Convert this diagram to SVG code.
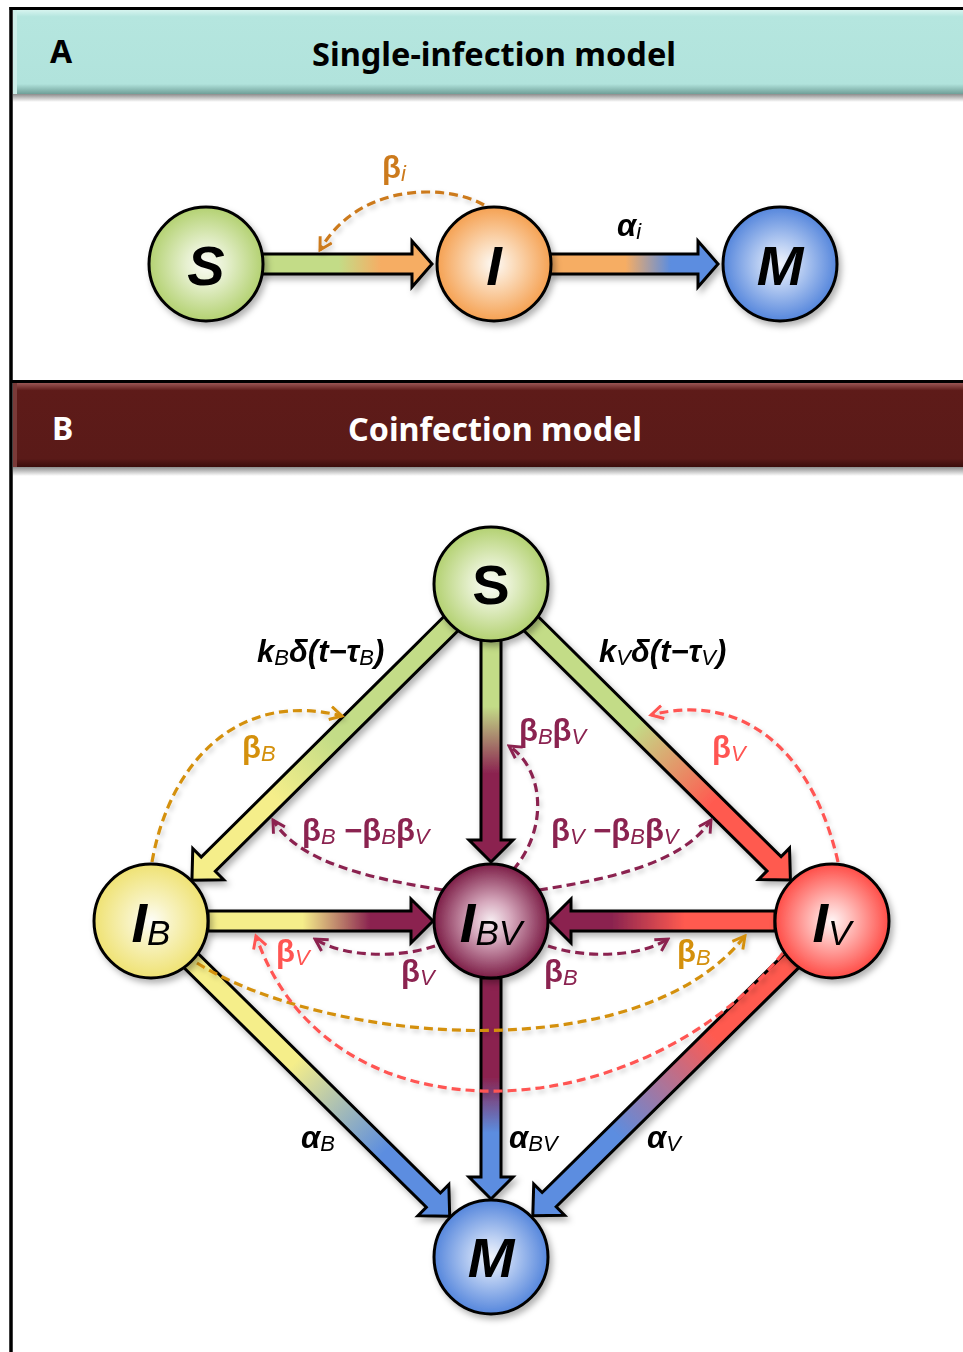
<svg xmlns="http://www.w3.org/2000/svg" width="963" height="1352" viewBox="0 0 963 1352">
<style>
.hdr{font-family:"Noto Sans","Open Sans",sans-serif;font-weight:bold;font-size:32px}
.nd{stroke:#000;stroke-width:3}
.arr{stroke:#000;stroke-width:3;stroke-linejoin:miter}
.dsh{fill:none;stroke-width:3.2;stroke-dasharray:9 5}
.nl{font-family:"Liberation Sans",Arial,sans-serif;font-weight:bold;font-size:56px;fill:#000}
.ns{font-family:"Liberation Sans",Arial,sans-serif;font-weight:normal;font-style:italic;font-size:35px}
.lb{font-family:"Liberation Sans",Arial,sans-serif;font-weight:bold;font-size:31px}
.it{font-style:italic}
.sb{font-weight:normal;font-style:italic;font-size:22px}
.or{fill:#d4900c}.rd{fill:#ff5552}.mr{fill:#8b2350}.bk{fill:#000}.oa{fill:#cc7a1c}
</style>
<defs>
<filter id="sh" x="-20%" y="-20%" width="140%" height="140%"><feDropShadow dx="3" dy="4" stdDeviation="3" flood-color="#000" flood-opacity="0.3"/></filter>
<filter id="sh2" x="-20%" y="-20%" width="140%" height="140%"><feDropShadow dx="2" dy="3" stdDeviation="2.5" flood-color="#000" flood-opacity="0.2"/></filter>
<radialGradient id="gS"><stop offset="0" stop-color="#fbfcf7"/><stop offset="0.35" stop-color="#e6f0cf"/><stop offset="1" stop-color="#b3d171"/></radialGradient>
<radialGradient id="gI"><stop offset="0" stop-color="#fdfaf6"/><stop offset="0.35" stop-color="#fbdcbc"/><stop offset="1" stop-color="#f5a152"/></radialGradient>
<radialGradient id="gM"><stop offset="0" stop-color="#f2f5fc"/><stop offset="0.35" stop-color="#bcd0f3"/><stop offset="1" stop-color="#5586dc"/></radialGradient>
<radialGradient id="gB"><stop offset="0" stop-color="#fdfdf8"/><stop offset="0.35" stop-color="#f8f3c4"/><stop offset="1" stop-color="#efe273"/></radialGradient>
<radialGradient id="gBV"><stop offset="0" stop-color="#f7eef2"/><stop offset="0.35" stop-color="#d6a9bd"/><stop offset="1" stop-color="#7c1d46"/></radialGradient>
<radialGradient id="gV"><stop offset="0" stop-color="#fff5f5"/><stop offset="0.35" stop-color="#ffbcb9"/><stop offset="1" stop-color="#ff4d47"/></radialGradient>
<linearGradient id="aSI" x1="0" x2="1" y1="0" y2="0"><stop offset="0.45" stop-color="#c3dc87"/><stop offset="0.7" stop-color="#f6ad64"/></linearGradient>
<linearGradient id="aIM" x1="0" x2="1" y1="0" y2="0"><stop offset="0.45" stop-color="#f6ad64"/><stop offset="0.72" stop-color="#5b8de0"/></linearGradient>
<linearGradient id="aSB" x1="0" x2="1" y1="0" y2="0"><stop offset="0.45" stop-color="#c3dc87"/><stop offset="0.68" stop-color="#f5ee8a"/></linearGradient>
<linearGradient id="aSBV" x1="0" x2="1" y1="0" y2="0"><stop offset="0.3" stop-color="#c3dc87"/><stop offset="0.6" stop-color="#8b2450"/></linearGradient>
<linearGradient id="aSV" x1="0" x2="1" y1="0" y2="0"><stop offset="0.4" stop-color="#c3dc87"/><stop offset="0.7" stop-color="#ff5a50"/></linearGradient>
<linearGradient id="aBBV" x1="0" x2="1" y1="0" y2="0"><stop offset="0.42" stop-color="#f5ee8a"/><stop offset="0.72" stop-color="#8b2450"/></linearGradient>
<linearGradient id="aVBV" x1="0" x2="1" y1="0" y2="0"><stop offset="0.4" stop-color="#ff5a50"/><stop offset="0.72" stop-color="#8b2450"/></linearGradient>
<linearGradient id="aBM" x1="0" x2="1" y1="0" y2="0"><stop offset="0.4" stop-color="#f5ee8a"/><stop offset="0.75" stop-color="#5b8de0"/></linearGradient>
<linearGradient id="aBVM" x1="0" x2="1" y1="0" y2="0"><stop offset="0.45" stop-color="#8b2450"/><stop offset="0.7" stop-color="#5b8de0"/></linearGradient>
<linearGradient id="aVM" x1="0" x2="1" y1="0" y2="0"><stop offset="0.3" stop-color="#ff5a50"/><stop offset="0.68" stop-color="#5b8de0"/></linearGradient>
<linearGradient id="shd" x1="0" x2="0" y1="0" y2="1"><stop offset="0" stop-color="#8c8c8c"/><stop offset="1" stop-color="#ffffff"/></linearGradient>
<linearGradient id="tealG" x1="0" x2="0" y1="0" y2="1"><stop offset="0" stop-color="#d6f4ef"/><stop offset="0.08" stop-color="#b5e6df"/><stop offset="0.88" stop-color="#b1e3dc"/><stop offset="1" stop-color="#6f9f98"/></linearGradient>
<linearGradient id="redG" x1="0" x2="0" y1="0" y2="1"><stop offset="0" stop-color="#9a5654"/><stop offset="0.09" stop-color="#5e1b19"/><stop offset="0.9" stop-color="#5a1a18"/><stop offset="1" stop-color="#3a0c0b"/></linearGradient>
<marker id="mO" viewBox="0 0 12 12" refX="10" refY="6" markerWidth="16" markerHeight="16" markerUnits="userSpaceOnUse" orient="auto"><path d="M1,1 L10,6 L1,11" fill="none" stroke="#d4900c" stroke-width="2.2"/></marker>
<marker id="mA" viewBox="0 0 12 12" refX="10" refY="6" markerWidth="16" markerHeight="16" markerUnits="userSpaceOnUse" orient="auto"><path d="M1,1 L10,6 L1,11" fill="none" stroke="#cc7a1c" stroke-width="2.2"/></marker>
<marker id="mR" viewBox="0 0 12 12" refX="10" refY="6" markerWidth="16" markerHeight="16" markerUnits="userSpaceOnUse" orient="auto"><path d="M1,1 L10,6 L1,11" fill="none" stroke="#ff5552" stroke-width="2.2"/></marker>
<marker id="mM" viewBox="0 0 12 12" refX="10" refY="6" markerWidth="16" markerHeight="16" markerUnits="userSpaceOnUse" orient="auto"><path d="M1,1 L10,6 L1,11" fill="none" stroke="#8b2350" stroke-width="2.2"/></marker>
</defs>
<rect width="963" height="1352" fill="#fff"/>
<g id="frame">
<rect x="13" y="94" width="950" height="8" fill="url(#shd)"/>
<rect x="13" y="10" width="950" height="84" fill="url(#tealG)"/>
<rect x="13" y="10" width="4" height="84" fill="#cdeee9"/>
<rect x="13" y="467" width="950" height="9" fill="url(#shd)"/>
<rect x="13" y="383" width="950" height="84" fill="url(#redG)"/>
<rect x="13" y="383" width="4" height="84" fill="#7a3a38"/>
<line x1="9.5" y1="8.5" x2="963" y2="8.5" stroke="#000" stroke-width="3"/>
<line x1="11" y1="7" x2="11" y2="1352" stroke="#000" stroke-width="3.5"/>
<line x1="11" y1="381.5" x2="963" y2="381.5" stroke="#000" stroke-width="3"/>
<text x="50" y="63" class="hdr" font-size="28">A</text>
<text x="312" y="66" class="hdr" textLength="364" lengthAdjust="spacingAndGlyphs">Single-infection model</text>
<text x="52" y="440" class="hdr" font-size="28" fill="#fff">B</text>
<text x="348" y="441" class="hdr" fill="#fff" textLength="294" lengthAdjust="spacingAndGlyphs">Coinfection model</text>
</g>
<g id="connectors">
<g filter="url(#sh)">
<polygon class="arr" fill="url(#aSI)" points="0,-10 150,-10 150,-23 170,0 150,23 150,10 0,10" transform="translate(262,264)"/>
<polygon class="arr" fill="url(#aIM)" points="0,-10 148,-10 148,-23 168,0 148,23 148,10 0,10" transform="translate(550,264)"/>
<polygon class="arr" fill="url(#aSB)" points="0,-10 342,-10 342,-22 365,0 342,22 342,10 0,10" transform="translate(451.2,623.4) rotate(135.26)"/>
<polygon class="arr" fill="url(#aSBV)" points="0,-10 200,-10 200,-22 222,0 200,22 200,10 0,10" transform="translate(491,640) rotate(90)"/>
<polygon class="arr" fill="url(#aSV)" points="0,-10 342,-10 342,-22 365,0 342,22 342,10 0,10" transform="translate(530.8,623.4) rotate(44.66)"/>
<polygon class="arr" fill="url(#aBBV)" points="0,-10 203,-10 203,-22 225,0 203,22 203,10 0,10" transform="translate(208,921)"/>
<polygon class="arr" fill="url(#aVBV)" points="0,-10 204,-10 204,-22 226,0 204,22 204,10 0,10" transform="translate(775,921) rotate(180)"/>
<polygon class="arr" fill="url(#aBM)" points="0,-10 341,-10 341,-22 364,0 341,22 341,10 0,10" transform="translate(190.8,960.4) rotate(44.66)"/>
<polygon class="arr" fill="url(#aBVM)" points="0,-10 199,-10 199,-22 221,0 199,22 199,10 0,10" transform="translate(491,978) rotate(90)"/>
<polygon class="arr" fill="url(#aVM)" points="0,-10 341,-10 341,-22 364,0 341,22 341,10 0,10" transform="translate(792.1,960.3) rotate(135.43)"/>
</g>
<g filter="url(#sh2)">
<path class="dsh" stroke="#cc7a1c" marker-end="url(#mA)" d="M484,205 C450,185 360,180 320,250"/>
<path class="dsh" stroke="#d4900c" marker-end="url(#mO)" d="M152,862 C170,760 240,690 342,716"/>
<path class="dsh" stroke="#ff5552" stroke-width="2.8" stroke-dasharray="7 4" marker-end="url(#mR)" d="M838,862 C815,760 750,690 651,715"/>
<path class="dsh" stroke="#8b2350" marker-end="url(#mM)" d="M443,890 C380,880 300,865 273,820"/>
<path class="dsh" stroke="#8b2350" marker-end="url(#mM)" d="M539,890 C602,880 682,865 711,820"/>
<path class="dsh" stroke="#8b2350" marker-end="url(#mM)" d="M513,870 C548,830 545,770 509,746"/>
<path class="dsh" stroke="#8b2350" marker-end="url(#mM)" d="M435,946 C400,958 345,958 315,939"/>
<path class="dsh" stroke="#8b2350" marker-end="url(#mM)" d="M548,946 C583,958 638,958 668,939"/>
<path class="dsh" stroke="#d4900c" marker-end="url(#mO)" d="M197,963 C330,1045 640,1070 745,936"/>
<path class="dsh" stroke="#ff5552" marker-end="url(#mR)" d="M783,953 C640,1130 330,1150 256,936"/>
</g>
<text x="382" y="178" class="lb oa">β<tspan class="sb" dy="3">i</tspan></text>
<text x="617" y="236" class="lb bk it">α<tspan class="sb" dy="3">i</tspan></text>
<text x="257" y="662" class="lb bk it">k<tspan class="sb" dy="3">B</tspan><tspan dy="-3">δ(t−τ</tspan><tspan class="sb" dy="3">B</tspan><tspan dy="-3">)</tspan></text>
<text x="599" y="662" class="lb bk it">k<tspan class="sb" dy="3">V</tspan><tspan dy="-3">δ(t−τ</tspan><tspan class="sb" dy="3">V</tspan><tspan dy="-3">)</tspan></text>
<text x="242" y="758" class="lb or">β<tspan class="sb" dy="3">B</tspan></text>
<text x="712" y="758" class="lb rd">β<tspan class="sb" dy="3">V</tspan></text>
<text x="519" y="741" class="lb mr">β<tspan class="sb" dy="3">B</tspan><tspan dy="-3">β</tspan><tspan class="sb" dy="3">V</tspan></text>
<text x="302" y="841" class="lb mr">β<tspan class="sb" dy="3">B</tspan><tspan dy="-3"> −β</tspan><tspan class="sb" dy="3">B</tspan><tspan dy="-3">β</tspan><tspan class="sb" dy="3">V</tspan></text>
<text x="551" y="841" class="lb mr">β<tspan class="sb" dy="3">V</tspan><tspan dy="-3"> −β</tspan><tspan class="sb" dy="3">B</tspan><tspan dy="-3">β</tspan><tspan class="sb" dy="3">V</tspan></text>
<text x="276" y="962" class="lb rd">β<tspan class="sb" dy="3">V</tspan></text>
<text x="401" y="982" class="lb mr">β<tspan class="sb" dy="3">V</tspan></text>
<text x="544" y="982" class="lb mr">β<tspan class="sb" dy="3">B</tspan></text>
<text x="677" y="962" class="lb or">β<tspan class="sb" dy="3">B</tspan></text>
<text x="301" y="1148" class="lb bk it">α<tspan class="sb" dy="3">B</tspan></text>
<text x="509" y="1148" class="lb bk it">α<tspan class="sb" dy="3">BV</tspan></text>
<text x="647" y="1148" class="lb bk it">α<tspan class="sb" dy="3">V</tspan></text>
</g>
<g id="nodeA_S" filter="url(#sh)"><circle class="nd" cx="206" cy="264" r="57" fill="url(#gS)"/><text x="206" y="285" text-anchor="middle" class="nl" font-style="italic" font-size="58">S</text></g>
<g id="nodeA_I" filter="url(#sh)"><circle class="nd" cx="494" cy="264" r="57" fill="url(#gI)"/><text x="494" y="285" text-anchor="middle" class="nl" font-style="italic" font-size="58">I</text></g>
<g id="nodeA_M" filter="url(#sh)"><circle class="nd" cx="780" cy="264" r="57" fill="url(#gM)"/><text x="780" y="285" text-anchor="middle" class="nl" font-style="italic" font-size="56">M</text></g>
<g id="nodeB_S" filter="url(#sh)"><circle class="nd" cx="491" cy="584" r="57" fill="url(#gS)"/><text x="491" y="604" text-anchor="middle" class="nl">S</text></g>
<g id="nodeB_IB" filter="url(#sh)"><circle class="nd" cx="151" cy="921" r="57" fill="url(#gB)"/><text x="151" y="942" text-anchor="middle" class="nl" font-style="italic">I<tspan class="ns" dy="3">B</tspan></text></g>
<g id="nodeB_IBV" filter="url(#sh)"><circle class="nd" cx="491" cy="921" r="57" fill="url(#gBV)"/><text x="491" y="942" text-anchor="middle" class="nl" font-style="italic">I<tspan class="ns" dy="3">BV</tspan></text></g>
<g id="nodeB_IV" filter="url(#sh)"><circle class="nd" cx="832" cy="921" r="57" fill="url(#gV)"/><text x="832" y="942" text-anchor="middle" class="nl" font-style="italic">I<tspan class="ns" dy="3">V</tspan></text></g>
<g id="nodeB_M" filter="url(#sh)"><circle class="nd" cx="491" cy="1257" r="57" fill="url(#gM)"/><text x="491" y="1277" text-anchor="middle" class="nl" font-style="italic">M</text></g>
</svg>
